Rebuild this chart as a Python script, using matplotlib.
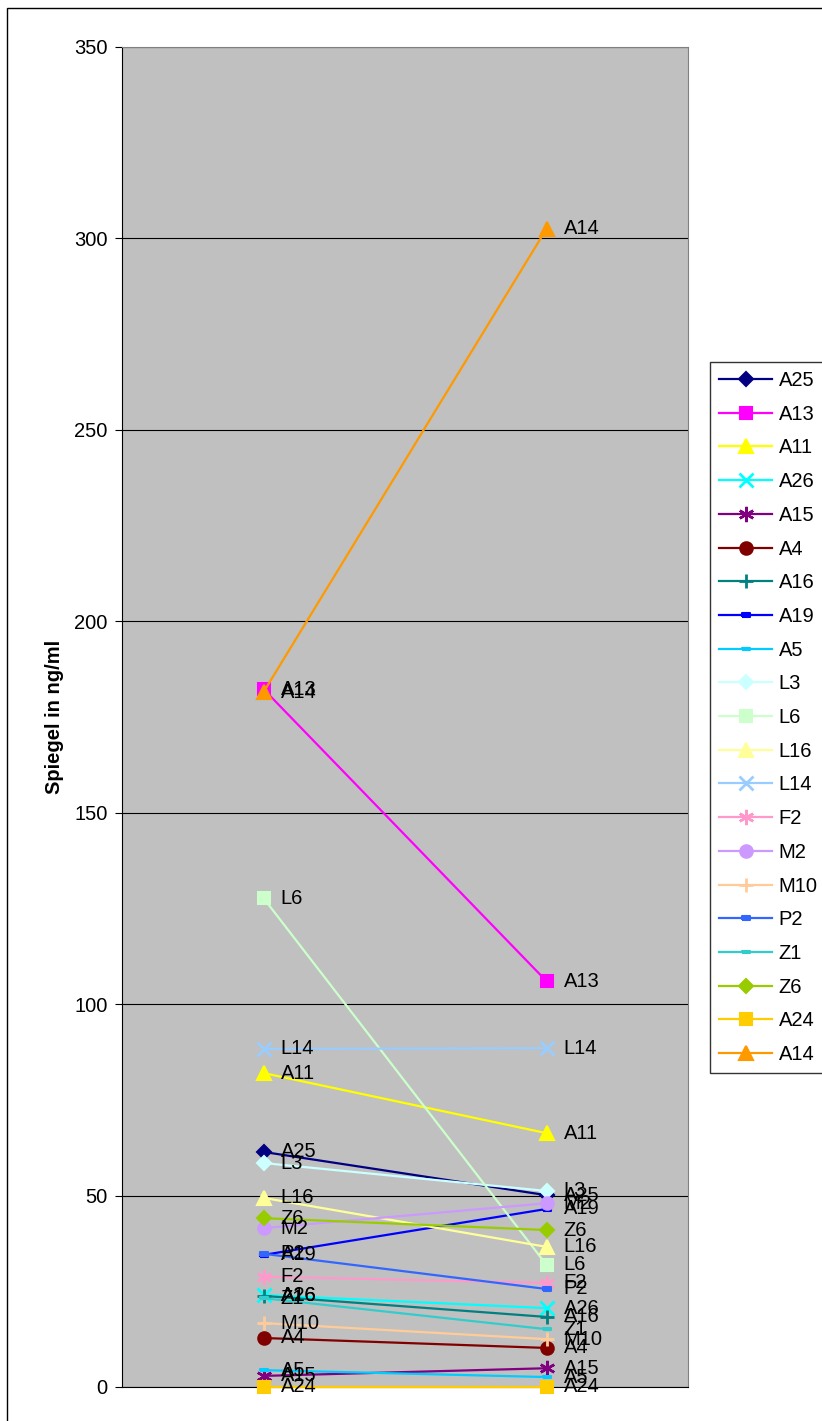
import matplotlib
matplotlib.use("Agg")
import matplotlib.pyplot as plt
from matplotlib.patches import Rectangle

plt.rcParams['font.family'] = ['Liberation Sans', 'DejaVu Sans']

categories = ["1", "2"]
series_names = ["A25", "A13", "A11", "A26", "A15", "A4", "A16", "A19", "A5", "L3", "L6",
                "L16", "L14", "F2", "M2", "M10", "P2", "Z1", "Z6", "A24", "A14"]
first_values = [61.4, 182.3, 82.0, 24.0, 2.9, 12.8, 23.8, 34.5, 4.4, 58.5, 127.7,
                49.4, 88.3, 28.8, 41.5, 16.7, 34.8, 23.2, 44.1, 0.1, 181.5]
second_values = [50.1, 106.0, 66.3, 20.6, 4.9, 10.2, 18.3, 46.5, 2.6, 51.2, 31.9,
                 36.6, 88.5, 27.2, 48.0, 12.5, 25.6, 15.1, 41.0, 0.1, 302.5]
colors = ["#000080", "#FF00FF", "#FFFF00", "#00FFFF", "#800080", "#800000", "#008080",
          "#0000FF", "#00CCFF", "#CCFFFF", "#CCFFCC", "#FFFF99", "#99CCFF", "#FF99CC",
          "#CC99FF", "#FFCC99", "#3366FF", "#33CCCC", "#99CC00", "#FFCC00", "#FF9900"]

short_dash = [(-1, -0.45), (1, -0.45), (1, 0.45), (-1, 0.45), (-1, -0.45)]
long_dash = [(-1.6, -0.45), (1.6, -0.45), (1.6, 0.45), (-1.6, 0.45), (-1.6, -0.45)]
asterisk = (6, 2, 0)
markers = ["D", "s", "^", "x", asterisk, "o", "+", short_dash, long_dash, "D", "s",
           "^", "x", asterisk, "o", "+", short_dash, long_dash, "D", "s", "^"]
yticks = [0, 50, 100, 150, 200, 250, 300, 350]

FS = 14.5
W, H = 822, 1421
fig = plt.figure(figsize=(W / 100, H / 100), dpi=100)
fig.patches.append(Rectangle((7 / W, -0.01), (W - 7) / W + 0.01, 1 - 8 / H + 0.01,
                             transform=fig.transFigure, fill=False, ec='black', lw=1.0))
ax = fig.add_axes([122 / W, 1 - 1387 / H, (688 - 122) / W, (1387 - 47) / H])
ax.set_facecolor("#C0C0C0")
x = list(range(len(categories)))

handles = []
for i, name in enumerate(series_names):
    m = markers[i]
    ms = 8
    mew = 1.5
    if m in ("x", "+"):
        ms, mew = 10, 2
    elif m == asterisk:
        ms, mew = 11, 1.8
    elif m == "o":
        ms = 9
    elif m == "^":
        ms = 10
    elif m == "D":
        ms = 7.5
    elif isinstance(m, list):
        ms = 6
    vals = [first_values[i], second_values[i]]
    h, = ax.plot(x, vals, color=colors[i], lw=1.6, marker=m, markersize=ms,
                 markerfacecolor=colors[i], markeredgecolor=colors[i], markeredgewidth=mew,
                 label=name, zorder=3 + i * 0.01, clip_on=False)
    handles.append(h)
    for xi, v in zip(x, vals):
        ax.annotate(name, (xi, v), xytext=(12.5, 0), textcoords='offset points',
                    va='center', ha='left', fontsize=FS, color='black', zorder=10)

ax.set_xlim(-0.5, 1.5)
ax.set_ylim(0, 350)
ax.set_yticks(yticks)
ax.set_yticklabels([str(t) for t in yticks], fontsize=FS)
ax.set_xticks([])
ax.grid(axis='y', color='black', lw=0.8)
ax.set_axisbelow(True)
for s in ['top', 'right']:
    ax.spines[s].set_color('#808080')
ax.spines['left'].set_color('black')
ax.spines['bottom'].set_color('black')
ax.tick_params(axis='y', direction='out', length=5, color='black', pad=5.5)
ax.set_ylabel("Spiegel in ng/ml", fontsize=FS, fontweight='bold', labelpad=7)

leg = fig.legend(handles=handles, labels=series_names, loc='upper left',
                 bbox_to_anchor=(710 / W, 1 - 362 / H), frameon=True, fancybox=False,
                 edgecolor='black', fontsize=FS, handlelength=2.65, labelspacing=0.73,
                 borderpad=0.45, handletextpad=0.3, borderaxespad=0)
leg.get_frame().set_linewidth(1.0)

fig.savefig("out.png", dpi=100)
